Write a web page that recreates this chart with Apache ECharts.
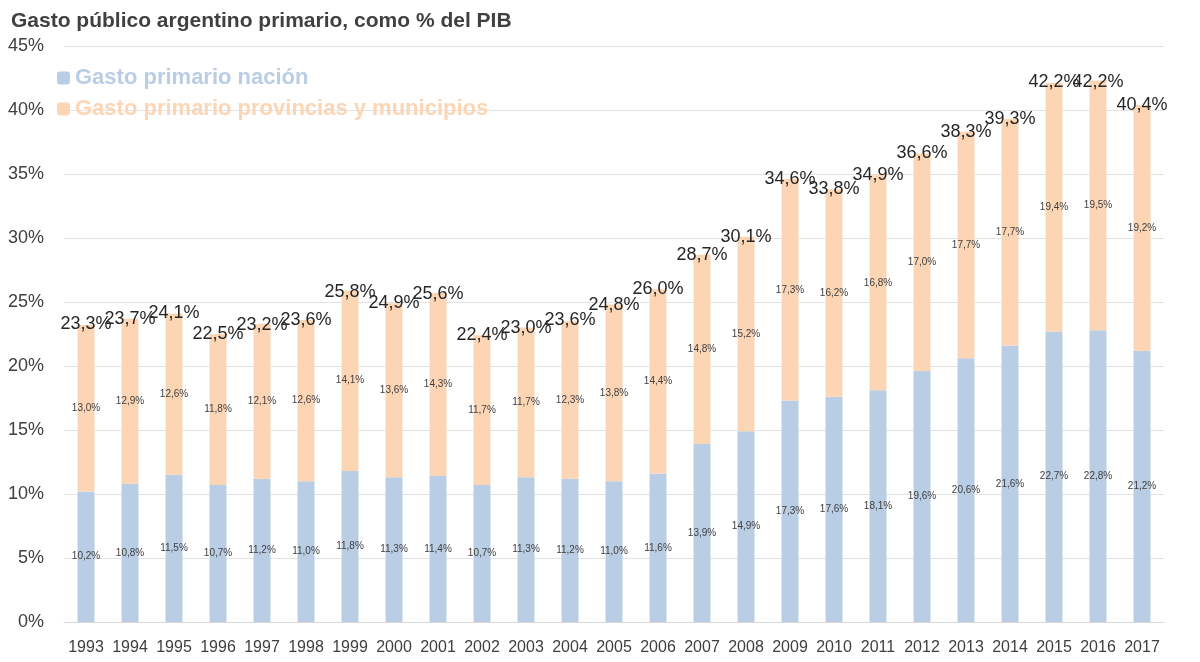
<!DOCTYPE html>
<html>
<head>
<meta charset="utf-8">
<script src="https://cdn.jsdelivr.net/npm/echarts@6/dist/echarts.min.js"></script>
<style>
  html, body { margin: 0; padding: 0; background: #fff; }
  #chart { width: 1200px; height: 662px; }
</style>
</head>
<body>
<div id="chart"></div>
<script>
// datos: % del PIB
var years = ['1993', '1994', '1995', '1996', '1997', '1998', '1999', '2000', '2001', '2002', '2003', '2004', '2005',
    '2006', '2007', '2008', '2009', '2010', '2011', '2012', '2013', '2014', '2015', '2016', '2017'];
var nacion = [10.2, 10.8, 11.5, 10.7, 11.2, 11.0, 11.8, 11.3, 11.4, 10.7, 11.3, 11.2, 11.0,
    11.6, 13.9, 14.9, 17.3, 17.6, 18.1, 19.6, 20.6, 21.6, 22.7, 22.8, 21.2];
var provincias = [13.0, 12.9, 12.6, 11.8, 12.1, 12.6, 14.1, 13.6, 14.3, 11.7, 11.7, 12.3, 13.8,
    14.4, 14.8, 15.2, 17.3, 16.2, 16.8, 17.0, 17.7, 17.7, 19.4, 19.5, 19.2];
var totales = [23.3, 23.7, 24.1, 22.5, 23.2, 23.6, 25.8, 24.9, 25.6, 22.4, 23.0, 23.6, 24.8,
    26.0, 28.7, 30.1, 34.6, 33.8, 34.9, 36.6, 38.3, 39.3, 42.2, 42.2, 40.4];

var FONT = '"Liberation Sans Narrow", "Liberation Sans", Arial, sans-serif';

function pct(v) {
    return v.toFixed(1).replace('.', ',') + '%';
}

var chart = echarts.init(document.getElementById('chart'));

var option = {
    backgroundColor: '#fff',
    animation: false,
    title: {
        text: 'Gasto público argentino primario, como % del PIB',
        left: 6,
        top: 6,
        textStyle: {
            fontFamily: FONT,
            fontSize: 21,
            fontWeight: 'bold',
            color: '#404040'
        }
    },
    legend: {
        data: ['Gasto primario nación', 'Gasto primario provincias y municipios'],
        orient: 'vertical',
        left: 52,
        top: 62,
        itemWidth: 13,
        itemHeight: 13,
        itemGap: 9,
        textStyle: {
            fontFamily: FONT,
            fontSize: 22,
            fontWeight: 'bold',
            color: 'inherit'
        }
    },
    grid: {
        left: 64,
        right: 36,
        top: 46,
        bottom: 40
    },
    xAxis: {
        type: 'category',
        data: years,
        axisTick: { show: false },
        axisLine: { lineStyle: { color: '#d9d9d9' } },
        axisLabel: {
            interval: 0,
            fontFamily: FONT,
            fontSize: 16,
            color: '#404040',
            margin: 18
        }
    },
    yAxis: {
        type: 'value',
        min: 0,
        max: 45,
        interval: 5,
        axisLine: { show: false },
        axisTick: { show: false },
        splitLine: { lineStyle: { color: '#e3e3e3', width: 1 } },
        axisLabel: {
            fontFamily: FONT,
            fontSize: 18,
            color: '#404040',
            margin: 20,
            formatter: '{value}%'
        }
    },
    series: [
        {
            name: 'Gasto primario nación',
            type: 'bar',
            stack: 'gasto',
            data: nacion,
            barWidth: 17,
            itemStyle: { color: '#b9cde5' },
            label: {
                show: true,
                position: 'inside',
                fontFamily: FONT,
                fontSize: 10,
                color: '#404040',
                formatter: function (p) { return pct(p.value); }
            }
        },
        {
            name: 'Gasto primario provincias y municipios',
            type: 'bar',
            stack: 'gasto',
            data: provincias,
            barWidth: 17,
            itemStyle: { color: '#fcd5b5' },
            label: {
                show: true,
                position: 'inside',
                fontFamily: FONT,
                fontSize: 10,
                color: '#404040',
                formatter: function (p) { return pct(p.value); }
            }
        },
        {
            // etiquetas del total, centradas sobre el tope de cada barra
            name: 'Total',
            type: 'line',
            data: totales,
            symbol: 'circle',
            symbolSize: 1,
            itemStyle: { color: 'rgba(0,0,0,0)' },
            lineStyle: { opacity: 0 },
            z: 10,
            label: {
                show: true,
                position: 'inside',
                fontFamily: FONT,
                fontSize: 18,
                color: '#262626',
                formatter: function (p) { return pct(p.value); }
            }
        }
    ]
};

chart.setOption(option);
</script>
</body>
</html>
